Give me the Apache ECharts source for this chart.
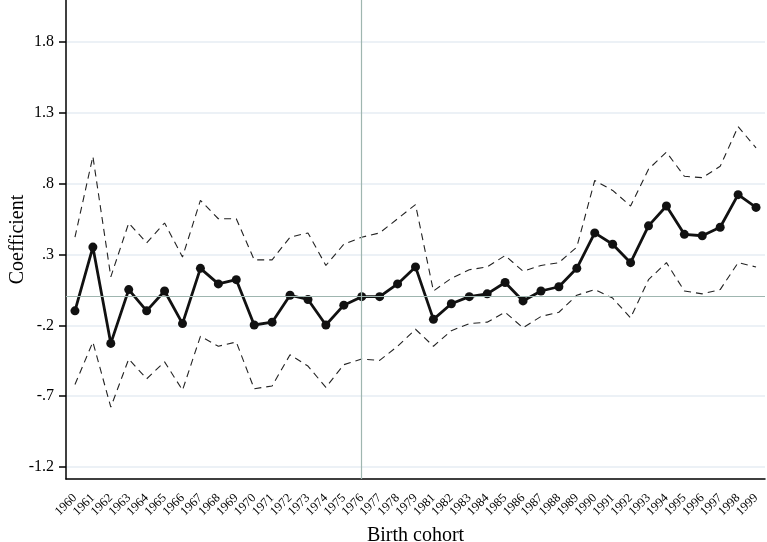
<!DOCTYPE html>
<html>
<head>
<meta charset="utf-8">
<script src="https://cdn.jsdelivr.net/npm/echarts@6/dist/echarts.min.js"></script>
<style>
    html,body{margin:0;padding:0;background:#fff;}
    #chart{width:767px;height:542px;}
</style>
</head>
<body>
<div id="chart"></div>
<script>
// birth cohorts (1980 is not in the sample)
var years = ['1960','1961','1962','1963','1964','1965','1966','1967','1968','1969',
    '1970','1971','1972','1973','1974','1975','1976','1977','1978','1979',
    '1981','1982','1983','1984','1985','1986','1987','1988','1989',
    '1990','1991','1992','1993','1994','1995','1996','1997','1998','1999'];
var coef = [-0.10,0.35,-0.33,0.05,-0.10,0.04,-0.19,0.20,0.09,0.12,
    -0.20,-0.18,0.01,-0.02,-0.20,-0.06,0.00,0.00,0.09,0.21,
    -0.16,-0.05,0.00,0.02,0.10,-0.03,0.04,0.07,0.20,
    0.45,0.37,0.24,0.50,0.64,0.44,0.43,0.49,0.72,0.63];
var upper = [0.42,0.99,0.14,0.52,0.38,0.52,0.28,0.68,0.55,0.55,
    0.26,0.26,0.42,0.45,0.22,0.37,0.42,0.45,0.55,0.65,
    0.04,0.13,0.19,0.21,0.29,0.18,0.22,0.24,0.35,
    0.82,0.75,0.64,0.90,1.02,0.85,0.84,0.92,1.20,1.05];
var lower = [-0.62,-0.32,-0.78,-0.44,-0.58,-0.46,-0.66,-0.28,-0.35,-0.32,
    -0.65,-0.63,-0.41,-0.49,-0.64,-0.48,-0.44,-0.45,-0.35,-0.23,
    -0.35,-0.24,-0.19,-0.18,-0.11,-0.22,-0.14,-0.11,0.01,
    0.05,-0.01,-0.15,0.12,0.24,0.04,0.02,0.05,0.24,0.21];
var yTickLabels = ['-1.2','-.7','-.2','.3','.8','1.3','1.8'];
var refYear = '1976';

var font = '"Liberation Serif","Times New Roman",serif';
var refColor = '#9fb6b0';

var chart = echarts.init(document.getElementById('chart'));
var dashed = {type: [7, 5], width: 1.1, color: '#222'};
chart.setOption({
    animation: false,
    backgroundColor: '#fff',
    grid: [
        // plot area
        {left: 66, right: 2, top: 0, bottom: 63, containLabel: false, outerBoundsMode: 'none'},
        // tick grid: -1.2 .. 1.8
        {left: 66, right: 2, top: 42, bottom: 75, containLabel: false, outerBoundsMode: 'none'}
    ],
    xAxis: [
        {
            gridIndex: 0,
            type: 'category',
            data: years,
            boundaryGap: true,
            name: 'Birth cohort',
            nameLocation: 'middle',
            nameGap: 47,
            nameTextStyle: {fontFamily: font, fontSize: 20, color: '#000'},
            axisLine: {onZero: false, lineStyle: {color: '#000', width: 1.5}},
            axisTick: {alignWithLabel: true, length: 8, lineStyle: {color: '#000', width: 1.5}},
            axisLabel: {rotate: 45, interval: 0, margin: 17, fontFamily: font, fontSize: 12.5, color: '#000'},
            splitLine: {show: false}
        },
        {gridIndex: 1, type: 'category', data: years, show: false}
    ],
    yAxis: [
        {
            gridIndex: 0,
            type: 'value',
            min: -1.287,
            max: 2.094,
            name: 'Coefficient',
            nameLocation: 'middle',
            nameGap: 38,
            nameTextStyle: {fontFamily: font, fontSize: 20, color: '#000'},
            axisLine: {show: true, onZero: false, lineStyle: {color: '#000', width: 1.5}},
            axisTick: {show: false},
            axisLabel: {show: false},
            splitLine: {show: false}
        },
        {
            gridIndex: 1,
            type: 'category',
            data: yTickLabels,
            boundaryGap: false,
            axisLine: {show: false},
            axisTick: {show: true, length: 7, lineStyle: {color: '#000', width: 1.5}},
            axisLabel: {margin: 12, fontFamily: font, fontSize: 16, color: '#000'},
            splitLine: {show: true, lineStyle: {color: '#e6edf3', width: 1.5}}
        }
    ],
    series: [
        {
            name: 'upper',
            type: 'line',
            data: upper,
            symbol: 'none',
            lineStyle: dashed,
            z: 3
        },
        {
            name: 'lower',
            type: 'line',
            data: lower,
            symbol: 'none',
            lineStyle: dashed,
            z: 3
        },
        {
            name: 'coef',
            type: 'line',
            data: coef,
            symbol: 'circle',
            symbolSize: 9,
            itemStyle: {color: '#111'},
            lineStyle: {color: '#111', width: 2.8},
            z: 4,
            markLine: {
                silent: true,
                symbol: 'none',
                label: {show: false},
                lineStyle: {color: refColor, width: 1.2, type: 'solid'},
                data: [{yAxis: 0}, {xAxis: refYear}]
            }
        }
    ]
});
</script>
</body>
</html>
